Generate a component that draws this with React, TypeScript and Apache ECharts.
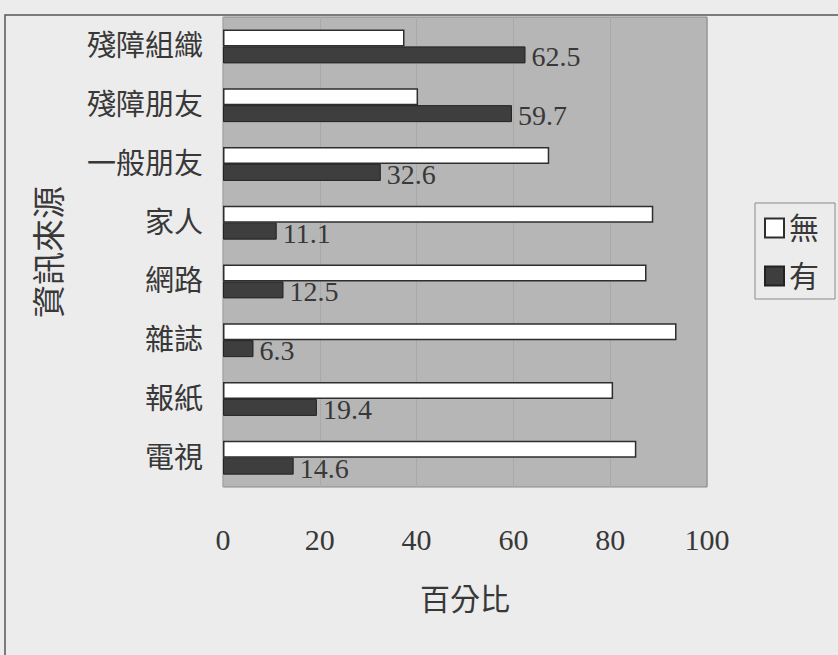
import React, { useEffect, useRef } from "react";
import * as echarts from "echarts";

const categories = ["殘障組織", "殘障朋友", "一般朋友", "家人", "網路", "雜誌", "報紙", "電視"];
const noValues = [37.5, 40.3, 67.4, 88.9, 87.5, 93.7, 80.6, 85.4];
const yesValues = [62.5, 59.7, 32.6, 11.1, 12.5, 6.3, 19.4, 14.6];
const xTicks = [0, 20, 40, 60, 80, 100];

const FONT = "'Liberation Serif', 'Noto Sans CJK TC', serif";
const TEXT = "#383838";

export default function App() {
  const ref = useRef<HTMLDivElement>(null);
  useEffect(() => {
    if (!ref.current) return;
    const chart = echarts.init(ref.current, undefined, { renderer: "svg" });
    chart.setOption({
      animation: false,
      backgroundColor: "#ececec",
      textStyle: { fontFamily: FONT, color: TEXT },
      graphic: [
        {
          type: "rect",
          shape: { x: 5, y: 15, width: 900, height: 700 },
          style: { fill: "none", stroke: "#555", lineWidth: 1.5 },
          z: -10,
        },
      ],
      grid: {
        left: 223,
        right: 131,
        top: 17,
        bottom: 168,
        show: true,
        backgroundColor: "#b6b6b6",
        borderColor: "#8a8a8a",
        borderWidth: 1,
      },
      legend: {
        orient: "vertical",
        left: 755,
        top: 203,
        padding: [10, 16, 8, 9],
        itemWidth: 19,
        itemHeight: 19,
        itemGap: 18,
        icon: "rect",
        backgroundColor: "#ececec",
        borderColor: "#8a8a8a",
        borderWidth: 1,
        textStyle: { fontFamily: FONT, fontSize: 30, color: TEXT },
        data: ["無", "有"],
      },
      xAxis: {
        type: "value",
        min: xTicks[0],
        max: xTicks[xTicks.length - 1],
        interval: 20,
        name: "百分比",
        nameLocation: "middle",
        nameGap: 97,
        nameTextStyle: { fontFamily: FONT, fontSize: 30, color: TEXT },
        axisLine: { show: false },
        axisTick: { show: false },
        axisLabel: { margin: 37, fontSize: 30, fontFamily: FONT, color: TEXT },
        splitLine: { show: true, lineStyle: { color: "#a9a9a9", width: 1 } },
      },
      yAxis: {
        type: "category",
        inverse: true,
        data: categories,
        name: "資訊來源",
        nameLocation: "middle",
        nameRotate: 90,
        nameGap: 157,
        nameTextStyle: { fontFamily: FONT, fontSize: 33, color: TEXT },
        axisLine: { show: false },
        axisTick: { show: false },
        axisLabel: { margin: 20, fontSize: 29, fontFamily: FONT, color: TEXT },
        splitLine: { show: false },
      },
      series: [
        {
          name: "無",
          type: "bar",
          data: noValues,
          barWidth: 17,
          barGap: "0%",
          itemStyle: { color: "#ffffff", borderColor: "#2e2e2e", borderWidth: 1.5 },
        },
        {
          name: "有",
          type: "bar",
          data: yesValues,
          barWidth: 17,
          barGap: "0%",
          itemStyle: { color: "#3e3e3e", borderColor: "#222", borderWidth: 1 },
          label: {
            show: true,
            position: "right",
            distance: 6,
            offset: [0, 2],
            fontFamily: FONT,
            fontSize: 28,
            color: TEXT,
          },
        },
      ],
    });
    return () => chart.dispose();
  }, []);
  return (
    <div
      ref={ref}
      style={{ position: "fixed", left: 0, top: 0, width: 838, height: 655 }}
    />
  );
}
